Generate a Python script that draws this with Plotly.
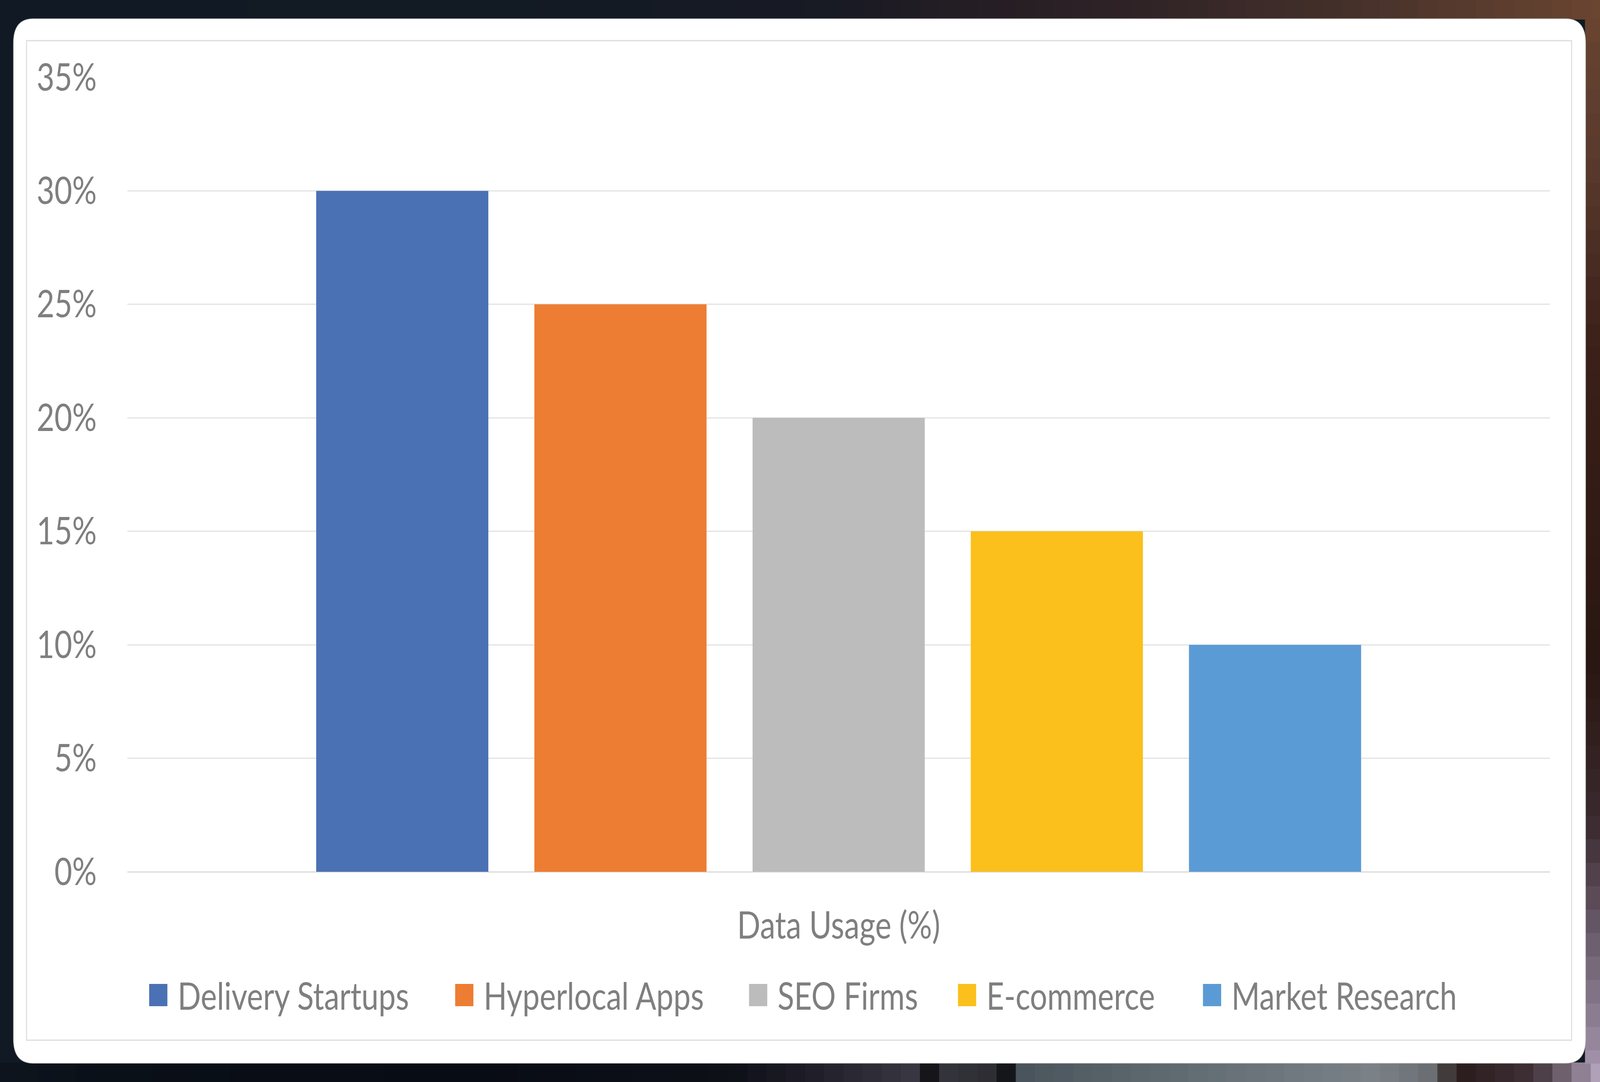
import plotly.graph_objects as go

# ---- data ----
category = ["Data Usage (%)"]
series_names = ["Delivery Startups", "Hyperlocal Apps", "SEO Firms", "E-commerce", "Market Research"]
series_values = [30, 25, 20, 15, 10]
series_colors = ["#4A71B4", "#ED7D32", "#BCBCBC", "#FBC01B", "#5B9BD5"]
y_tick_values = [0, 5, 10, 15, 20, 25, 30, 35]
y_tick_labels = ["0%", "5%", "10%", "15%", "20%", "25%", "30%", "35%"]

# ---- geometry, designed at the reference size (px) ----
W, H = 5009, 2769
ML, MR, MT, MB = 399, 157, 198, 538
PW = W - ML - MR
PH = H - MT - MB
FONT = "Lato, Carlito, Calibri, sans-serif"
TXT = "#7F7F7F"
FS = 96
CARD = (42, 48, 4964, 2721)


def px(x):
    return (x - ML) / PW


def py(y):
    return (H - MB - y) / PH


def rounded_rect(x0, y0, x1, y1, r):
    X0, X1 = px(x0), px(x1)
    Y0, Y1 = py(y0), py(y1)
    rx, ry = r / PW, r / PH
    return (f"M {X0+rx},{Y0} L {X1-rx},{Y0} Q {X1},{Y0} {X1},{Y0-ry} "
            f"L {X1},{Y1+ry} Q {X1},{Y1} {X1-rx},{Y1} L {X0+rx},{Y1} "
            f"Q {X0},{Y1} {X0},{Y1+ry} L {X0},{Y0-ry} Q {X0},{Y0} {X0+rx},{Y0} Z")


def hex_rgb(h):
    h = h.lstrip("#")
    return [int(h[i:i + 2], 16) for i in (0, 2, 4)]


def color_at(stops, t):
    for (a, ca), (b, cb) in zip(stops[:-1], stops[1:]):
        if a <= t <= b:
            f = 0 if b == a else (t - a) / (b - a)
            A, B = hex_rgb(ca), hex_rgb(cb)
            return "rgb(%d,%d,%d)" % tuple(round(A[i] + (B[i] - A[i]) * f) for i in range(3))
    return stops[-1][1]


fig = go.Figure()
for name, val, col in zip(series_names, series_values, series_colors):
    fig.add_trace(go.Bar(x=category, y=[val], name=name, marker=dict(color=col, line=dict(width=0)),
                         showlegend=False))

shapes = []


def bg_rect(x0, y0, x1, y1, c):
    shapes.append(dict(type="rect", xref="paper", yref="paper", x0=px(x0), x1=px(x1), y0=py(y1), y1=py(y0),
                       fillcolor=c, line=dict(width=0), layer="below"))


# dark photo frame around the card (soft stepped gradients)
bg_rect(0, 0, W, H, "#111a24")
top_stops = [(0, "#111a24"), (1600, "#121a24"), (2600, "#181a24"), (2900, "#221c24"),
             (3500, "#2e2226"), (4200, "#44302a"), (W, "#6a4530")]
bottom_stops = [(0, "#0e151e"), (300, "#0a1018"), (1500, "#080c14"), (2300, "#0e1018"),
                (2600, "#24222c"), (2880, "#3a3842"), (2920, "#0a0a0c"), (2960, "#34343c"),
                (3110, "#2c2c32"), (3140, "#0a0a0c"), (3200, "#4a545c"), (3600, "#5c686e"),
                (4300, "#7a8288"), (4480, "#6a6e72"), (4560, "#2a1c1c"), (4800, "#3e3036"), (W, "#b0a0b8")]
right_stops = [(0, "#6a4530"), (400, "#5a3a2e"), (900, "#3a2018"), (1700, "#2a1612"),
               (2100, "#3a2a2e"), (2400, "#6a5c6c"), (H, "#a898b0")]
STEP = 60
for x in range(0, W, STEP):
    bg_rect(x, 0, min(x + STEP, W) + 1, CARD[1] + 2, color_at(top_stops, x + STEP / 2))
    bg_rect(x, CARD[3] - 2, min(x + STEP, W) + 1, H, color_at(bottom_stops, x + STEP / 2))
for y in range(CARD[1], CARD[3], STEP):
    bg_rect(CARD[2] - 2, y, W, min(y + STEP, CARD[3]) + 1, color_at(right_stops, y + STEP / 2))

# white card
shapes.append(dict(type="path", xref="paper", yref="paper", path=rounded_rect(*CARD, 62),
                   fillcolor="#FFFFFF", line=dict(color="#BDBDBD", width=1.5), layer="below"))
# chart area border
shapes.append(dict(type="rect", xref="paper", yref="paper", x0=px(83), x1=px(4920), y0=py(2662), y1=py(104),
                   fillcolor="rgba(0,0,0,0)", line=dict(color="#DCDCDC", width=3), layer="below"))

# legend (Excel-like large squares)
legend_sq_x = [467, 1425, 2345, 2999, 3766]
SQ = 57
SQ_Y0 = 2518
annotations = []
for name, col, sx in zip(series_names, series_colors, legend_sq_x):
    shapes.append(dict(type="rect", xref="paper", yref="paper", x0=px(sx), x1=px(sx + SQ),
                       y0=py(SQ_Y0 + SQ), y1=py(SQ_Y0), fillcolor=col, line=dict(width=0)))
    annotations.append(dict(xref="paper", yref="paper", x=px(sx + SQ + 30), y=py(SQ_Y0 + SQ / 2),
                            xanchor="left", yanchor="middle", text=name, showarrow=False))

fig.update_layout(
    width=W, height=H,
    margin=dict(l=ML, r=MR, t=MT, b=MB, pad=0),
    paper_bgcolor="#111a24",
    plot_bgcolor="#FFFFFF",
    barmode="group",
    bargap=0.233,
    bargroupgap=0.211,
    shapes=shapes,
    annotations=annotations,
    font=dict(family=FONT, size=FS, color=TXT),
    xaxis=dict(showgrid=False, zeroline=False, showline=False, ticks="", ticklabelstandoff=74),
    yaxis=dict(range=[0, 35], tickvals=y_tick_values, ticktext=y_tick_labels, showgrid=True,
               gridcolor="#E3E3E3", gridwidth=3, zeroline=True, zerolinecolor="#D9D9D9", zerolinewidth=3,
               showline=False, ticks="", ticklabelstandoff=95),
    showlegend=False,
)

# Show the whole 5009x2769 figure inside whatever viewport the browser actually has.
fit_js = """
var gd = document.getElementById('{plot_id}');
document.documentElement.style.overflow = 'hidden';
document.body.style.margin = '0px';
document.body.style.overflow = 'hidden';
var sx = window.innerWidth / %d, sy = window.innerHeight / %d;
gd.style.transformOrigin = '0 0';
gd.style.transform = 'scale(' + sx + ',' + sy + ')';
""" % (W, H)

fig.write_html("out.html", config={"displayModeBar": False}, post_script=fit_js)
